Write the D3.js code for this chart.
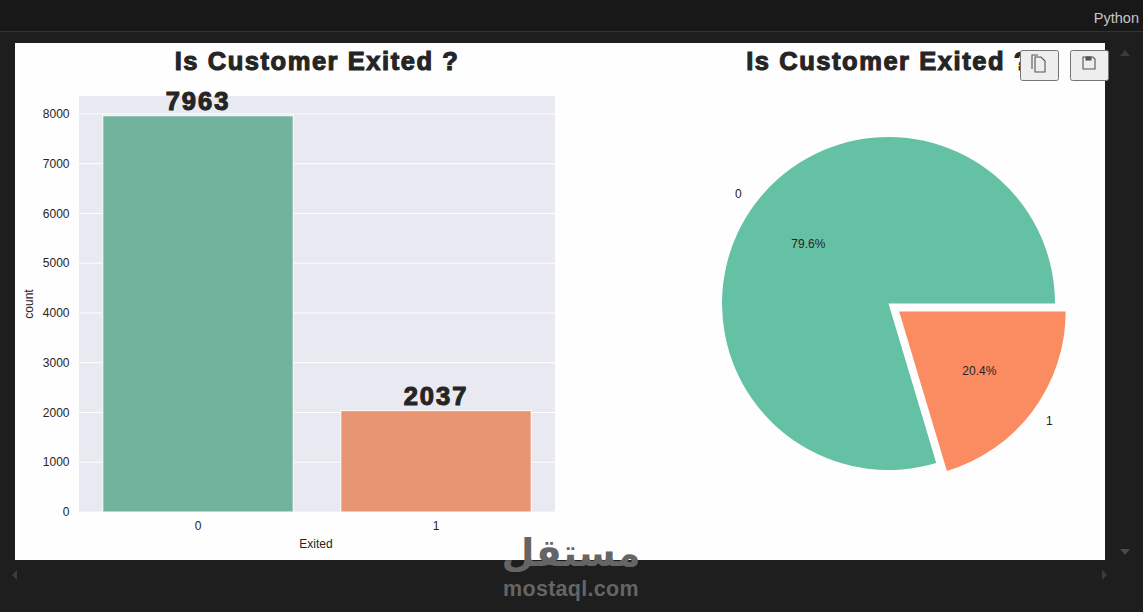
<!DOCTYPE html>
<html><head><meta charset="utf-8">
<script src="https://cdn.jsdelivr.net/npm/d3@7"></script>
<style>html,body{margin:0;padding:0;background:#1e1e1e;overflow:hidden}svg{display:block}text{font-family:"Liberation Sans",Arial,sans-serif}</style>
</head><body><svg id="c" width="1143" height="612"></svg>
<script>
const categories = ["0", "1"];
const counts = [7963, 2037];
const yTicks = [0, 1000, 2000, 3000, 4000, 5000, 6000, 7000, 8000];
const barColors = ["#72b49e", "#e99675"];
const pieColors = ["#66c2a5", "#fc8d62"];
const explode = [0, 0.08];
const chartTitle = "Is Customer Exited ?";
const xLabel = "Exited", yLabel = "count";
const ink = "#262626";

const root = d3.select("#c");
const svg = root.append("g").attr("opacity",0.995);
// notebook chrome
svg.append("rect").attr("width",1143).attr("height",612).attr("fill","#1e1e1e");
svg.append("rect").attr("width",1143).attr("height",31).attr("fill","#181818");
svg.append("line").attr("x1",0).attr("x2",1143).attr("y1",31.5).attr("y2",31.5).attr("stroke","#33333d");
svg.append("text").attr("x",1139).attr("y",23).attr("text-anchor","end").attr("font-size",14.5).attr("fill","#c8c8c8").text("Python");
svg.append("rect").attr("x",15).attr("y",43).attr("width",1090).attr("height",517).attr("fill","#fff");
const tri = (pts,f)=>svg.append("path").attr("d",d3.line()(pts)+"Z").attr("fill",f);
tri([[1120,56],[1130,56],[1125,50]],"#3c3c3c");
tri([[1120,549],[1130,549],[1125,555]],"#4a4a4a");
tri([[17,570],[17,580],[12,575]],"#3c3c3c");
tri([[1102,570],[1102,580],[1107,575]],"#3c3c3c");

// titles
function title(cx){
  svg.append("text").attr("x",cx).attr("y",70).attr("text-anchor","middle")
    .attr("font-size",25.5).attr("font-weight",700).attr("letter-spacing",1.55)
    .attr("fill",ink).attr("stroke",ink).attr("stroke-width",1.1).text(chartTitle);
}
title(317); title(888.5);

// bar chart
const x = d3.scaleBand().domain(categories).range([79,555]).paddingInner(0.2).paddingOuter(0.1);
const y = d3.scaleLinear().domain([0,8360]).range([512,96]);
const g = svg.append("g");
g.append("rect").attr("x",79).attr("y",96).attr("width",476).attr("height",416).attr("fill","#eaeaf2");
g.selectAll(".grid").data(yTicks).join("line").attr("x1",79).attr("x2",555)
  .attr("y1",d=>y(d)).attr("y2",d=>y(d)).attr("stroke","#fff").attr("stroke-width",1);
g.selectAll(".bar").data(counts).join("rect")
  .attr("x",(d,i)=>x(categories[i])).attr("width",x.bandwidth())
  .attr("y",d=>y(d)).attr("height",d=>y(0)-y(d))
  .attr("fill",(d,i)=>barColors[i]).attr("stroke","#fff").attr("stroke-width",1);
g.selectAll(".val").data(counts).join("text")
  .attr("x",(d,i)=>x(categories[i])+x.bandwidth()/2).attr("y",d=>y(d)-6)
  .attr("text-anchor","middle").attr("font-size",25.5).attr("font-weight",700).attr("letter-spacing",2)
  .attr("fill",ink).attr("stroke",ink).attr("stroke-width",1.1).text(d=>d);
g.selectAll(".yt").data(yTicks).join("text").attr("x",69.5).attr("y",d=>y(d)+4.2)
  .attr("text-anchor","end").attr("font-size",12).attr("fill",ink).text(d=>d);
g.selectAll(".xt").data(categories).join("text").attr("x",d=>x(d)+x.bandwidth()/2).attr("y",530)
  .attr("text-anchor","middle").attr("font-size",12).attr("fill",ink).text(d=>d);
g.append("text").attr("x",316).attr("y",548).attr("text-anchor","middle").attr("font-size",12).attr("fill",ink).text(xLabel);
g.append("text").attr("transform","translate(33,304) rotate(-90)").attr("text-anchor","middle").attr("font-size",12).attr("fill",ink).text(yLabel);

// pie
const cx=888.5, cy=303.5, r=166.5;
const pie = d3.pie().sort(null).startAngle(Math.PI/2).endAngle(Math.PI/2-2*Math.PI);
const arcs = pie(counts);
const total = d3.sum(counts);
const arc = d3.arc().innerRadius(0).outerRadius(r);
const p = svg.append("g").attr("transform",`translate(${cx},${cy})`);
const pos=(a,k)=>{const m=(a.startAngle+a.endAngle)/2;return [Math.sin(m)*r*k,-Math.cos(m)*r*k];};
p.selectAll(".w").data(arcs).join("path")
  .attr("transform",(a,i)=>{const o=pos(a,explode[i]);return `translate(${o[0]},${o[1]})`;})
  .attr("d",arc).attr("fill",(a,i)=>pieColors[i]);
p.selectAll(".l").data(arcs).join("text")
  .attr("x",(a,i)=>pos(a,explode[i]+1.1)[0]).attr("y",(a,i)=>pos(a,explode[i]+1.1)[1]+4)
  .attr("text-anchor",(a,i)=>pos(a,1)[0]<0?"end":"start").attr("font-size",12).attr("fill",ink).text((a,i)=>categories[i]);
p.selectAll(".pct").data(arcs).join("text")
  .attr("x",(a,i)=>pos(a,explode[i]+0.6)[0]).attr("y",(a,i)=>pos(a,explode[i]+0.6)[1]+4)
  .attr("text-anchor","middle").attr("font-size",12).attr("fill",ink).text(a=>d3.format(".1f")(a.value/total*100)+"%");

// toolbar buttons
function btn(x0,kind){
  svg.append("rect").attr("x",x0+.5).attr("y",50.5).attr("width",38).attr("height",30).attr("rx",2).attr("fill","#efefef").attr("stroke","#767676");
  const s=svg.append("g").attr("fill","none").attr("stroke","#555").attr("stroke-width",1.1);
  if(kind==="copy"){
    s.append("path").attr("d",`M${x0+12} 69V55h6`);
    s.append("path").attr("d",`M${x0+15} 57h6l4 4v11h-10z`).attr("fill","#efefef");
  } else {
    s.append("path").attr("d",`M${x0+13} 57h10l2 2v10h-12z`);
    s.append("rect").attr("x",x0+16).attr("y",57).attr("width",5).attr("height",3).attr("fill","#555");
  }
}
btn(1020,"copy"); btn(1070,"save");

// watermark
const wm = svg.append("g").attr("text-anchor","middle").attr("fill","#666");
wm.append("text").attr("x",571).attr("y",566).attr("font-size",38).attr("font-weight",700).attr("style",'font-family:"DejaVu Sans"').text("مستقل");
wm.append("text").attr("x",571).attr("y",596).attr("font-size",21.5).attr("font-weight",700).attr("letter-spacing",.3).text("mostaql.com");
</script></body></html>
